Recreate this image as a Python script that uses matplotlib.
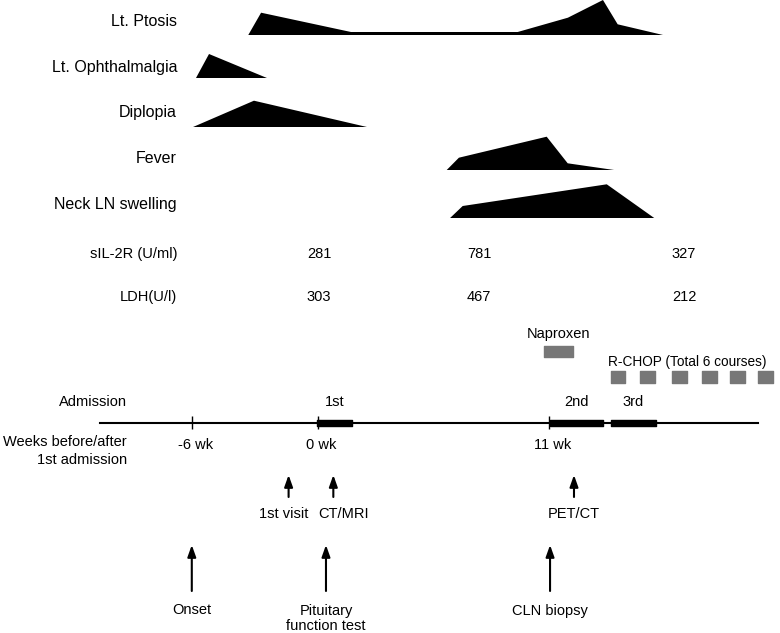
import numpy as np
import matplotlib.pyplot as plt

plt.rcParams['font.family'] = ['Liberation Sans', 'DejaVu Sans']

# oś czasu: tygodnie przed/po 1. przyjęciu
symptoms = ["Lt. Ptosis", "Lt. Ophthalmalgia", "Diplopia", "Fever", "Neck LN swelling"]
ptosis_wk = [-3.32, -2.71, 1.57, 9.51, 11.90, 13.57, 14.27, 16.43]
ptosis_lvl = [0, 22.3, 3, 3, 17.3, 35, 10.7, 0]
ophth_wk = [-5.81, -5.19, -2.43]
ophth_lvl = [0, 24, 0]
diplopia_wk = [-5.95, -3.05, 2.33]
diplopia_lvl = [0, 26.3, 0]
fever_wk = [6.13, 6.71, 10.89, 11.89, 14.10]
fever_lvl = [0, 12.3, 33.3, 6.7, 0]
neck_wk = [6.29, 6.89, 13.75, 16.01]
neck_lvl = [0, 12, 33.7, 0]

lab_names = ["sIL-2R (U/ml)", "LDH(U/l)"]
lab_wk = [0.05, 7.67, 17.43]
sil2r = [281, 781, 327]
ldh = [303, 467, 212]

admissions = ["1st", "2nd", "3rd"]
adm_start = [-0.03, 11.06, 13.95]
adm_end = [1.63, 13.59, 16.08]
tick_wk = [-6, 0, 11]
tick_labels = ["-6 wk", "0 wk", "11 wk"]

naproxen = (10.76, 12.16)
rchop_start = [13.95, 15.35, 16.87, 18.30, 19.62, 20.97]
rchop_len = 0.69

events_small = ["1st visit", "CT/MRI", "PET/CT"]
events_small_wk = [-1.40, 0.73, 12.19]
events_big = [["Onset"], ["Pituitary", "function test"], ["CLN biopsy"]]
events_big_wk = [-6.01, 0.38, 11.05]

W, H = 780, 633
x0, pxw = 318, 21.0  # piksel tygodnia 0 i piksele na tydzień

fig = plt.figure(figsize=(W / 100, H / 100), dpi=100)
ax = fig.add_axes([0, 0, 1, 1])
ax.set_xlim(-x0 / pxw, (W - x0) / pxw)
ax.set_ylim(H, 0)
ax.axis('off')

fs = 10.5
lab_x = (177 - x0) / pxw

# objawy
rows = [(ptosis_wk, ptosis_lvl), (ophth_wk, ophth_lvl), (diplopia_wk, diplopia_lvl),
        (fever_wk, fever_lvl), (neck_wk, neck_lvl)]
baselines = [35, 78, 127, 170, 218]
label_y = [21.7, 67.7, 113, 158.7, 204]
for name, (wk, lvl), base, ly in zip(symptoms, rows, baselines, label_y):
    ax.fill(wk, base - np.array(lvl), color='black', lw=0)
    ax.text(lab_x, ly, name, ha='right', va='center', fontsize=11.5)

# badania lab
for name, vals, ly in zip(lab_names, [sil2r, ldh], [254, 297]):
    ax.text(lab_x, ly, name, ha='right', va='center', fontsize=fs)
    for w, v in zip(lab_wk, vals):
        ax.text(w, ly, str(v), ha='center', va='center', fontsize=fs)

# leki
ax.broken_barh([(naproxen[0], naproxen[1] - naproxen[0])], (345.7, 11), color='#777777')
ax.text(np.mean(naproxen), 334, "Naproxen", ha='center', va='center', fontsize=fs)
ax.broken_barh([(s, rchop_len) for s in rchop_start], (371, 12.3), color='#777777')
ax.text(rchop_start[0] - 0.15, 361.7, "R-CHOP (Total 6 courses)", ha='left', va='center',
        fontsize=9.8)

# linia czasu
line_y = 422.7
ax.plot([(100 - x0) / pxw, (758.3 - x0) / pxw], [line_y, line_y], color='black', lw=1.5)
ax.broken_barh([(s, e - s) for s, e in zip(adm_start, adm_end)], (line_y - 3.2, 6.4),
               color='black')
ax.vlines(tick_wk, line_y - 6.5, line_y + 6.5, color='black', lw=1)
for name, s, e in zip(admissions, adm_start, adm_end):
    ax.text((s + e) / 2, 401.7, name, ha='center', va='center', fontsize=fs)
for w, t in zip(tick_wk, tick_labels):
    ax.text(w + 0.15, 445, t, ha='center', va='center', fontsize=fs)

left_x = (127 - x0) / pxw
ax.text(left_x, 401.7, "Admission", ha='right', va='center', fontsize=fs)
ax.text(left_x, 442, "Weeks before/after", ha='right', va='center', fontsize=fs)
ax.text(left_x, 460, "1st admission", ha='right', va='center', fontsize=fs)

# zdarzenia
arrow = dict(arrowstyle='-|>,head_length=0.7,head_width=0.25', color='black', lw=1.5,
             shrinkA=0, shrinkB=0)
for name, w in zip(events_small, events_small_wk):
    ax.annotate('', xy=(w, 475), xytext=(w, 497), arrowprops=arrow)
label_dx = [-0.25, 0.5, 0.0]
for name, w, dx in zip(events_small, events_small_wk, label_dx):
    ax.text(w + dx, 513.5, name, ha='center', va='center', fontsize=fs)
for lines, w in zip(events_big, events_big_wk):
    ax.annotate('', xy=(w, 545), xytext=(w, 591), arrowprops=arrow)
    for i, line in enumerate(lines):
        ax.text(w, 610.5 + 16 * i, line, ha='center', va='center', fontsize=fs)

fig.savefig('out.png', dpi=100)
